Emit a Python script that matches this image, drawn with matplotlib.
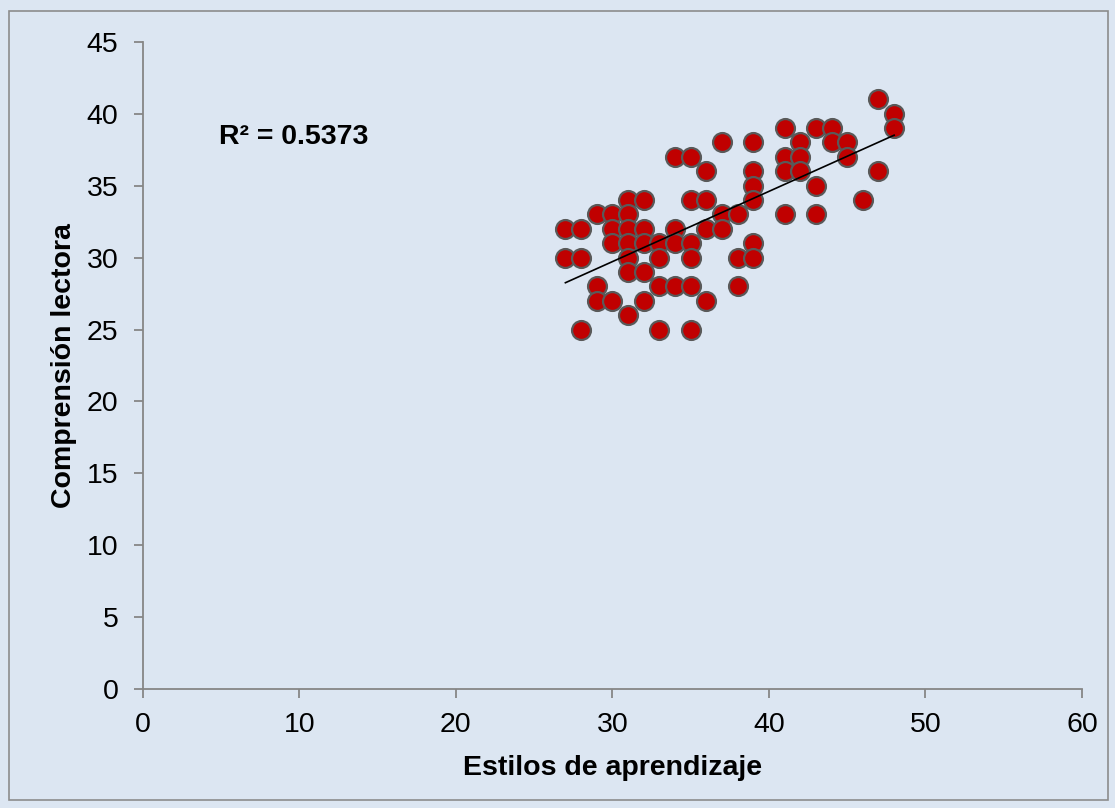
import matplotlib
matplotlib.use('Agg')
import matplotlib.pyplot as plt
from matplotlib.patches import Rectangle
import numpy as np

plt.rcParams['font.family'] = ['Liberation Sans', 'DejaVu Sans']

# Estilos de aprendizaje (x) vs Comprensión lectora (y)
estilos = [34, 35, 37, 39, 36, 39, 39, 39, 31, 32, 35, 36,
           29, 30, 31, 37, 38, 41, 27, 28, 30, 31, 32, 34, 36, 37,
           30, 31, 32, 33, 34, 35, 39, 27, 28, 31, 33, 35, 38, 39,
           31, 32, 29, 33, 34, 35, 38, 29, 30, 32, 36, 31, 28, 33, 35,
           47, 48, 48, 41, 43, 44, 42, 44, 45, 41, 42, 45, 41, 42, 47,
           43, 46, 43]
comprension = [37, 37, 38, 38, 36, 36, 35, 34, 34, 34, 34, 34,
               33, 33, 33, 33, 33, 33, 32, 32, 32, 32, 32, 32, 32, 32,
               31, 31, 31, 31, 31, 31, 31, 30, 30, 30, 30, 30, 30, 30,
               29, 29, 28, 28, 28, 28, 28, 27, 27, 27, 27, 26, 25, 25, 25,
               41, 40, 39, 39, 39, 39, 38, 38, 38, 37, 37, 37, 36, 36, 36,
               35, 34, 33]
r2_text = 'R² = 0.5373'
x_ticks = [0, 10, 20, 30, 40, 50, 60]
y_ticks = [0, 5, 10, 15, 20, 25, 30, 35, 40, 45]

bg = '#DCE6F2'
axis_col = '#868686'

fig = plt.figure(figsize=(11.15, 8.08), dpi=100, facecolor=bg)
ax = fig.add_axes([0.128, 0.1469, 0.9704 - 0.128, 0.9484 - 0.1469])
ax.set_facecolor(bg)

# border around the chart area
fig.patches.append(Rectangle((9 / 1115, 1 - 800 / 808), 1099 / 1115, 789 / 808,
                             transform=fig.transFigure, fill=False,
                             edgecolor='#8C8C8C', linewidth=1.2))

x = np.array(estilos)
y = np.array(comprension)
ax.scatter(x, y, s=185, c='#C00000', edgecolors='#595959', linewidths=1.6, zorder=3)

p1 = np.polyfit(x, y, 1)
xl = np.array([x.min(), x.max()])
ax.plot(xl, np.polyval(p1, xl), color='black', linewidth=1.2, zorder=4)

ax.text(4.85, 38.4, r2_text, fontsize=20.5, fontweight='bold', va='center', ha='left')

ax.set_xlim(0, 60)
ax.set_ylim(0, 45)
ax.set_xticks(x_ticks)
ax.set_yticks(y_ticks)
for s in ['top', 'right']:
    ax.spines[s].set_visible(False)
for s in ['left', 'bottom']:
    ax.spines[s].set_color(axis_col)
    ax.spines[s].set_linewidth(1.3)
ax.tick_params(axis='both', direction='out', length=6.5, width=1.3, color=axis_col,
               labelsize=20.5)
ax.tick_params(axis='y', pad=11)
ax.tick_params(axis='x', pad=10)

ax.set_xlabel('Estilos de aprendizaje', fontsize=20.5, fontweight='bold', labelpad=12)
ax.set_ylabel('Comprensión lectora', fontsize=20.5, fontweight='bold', labelpad=7)

fig.savefig('out.png', dpi=100, facecolor=bg)
